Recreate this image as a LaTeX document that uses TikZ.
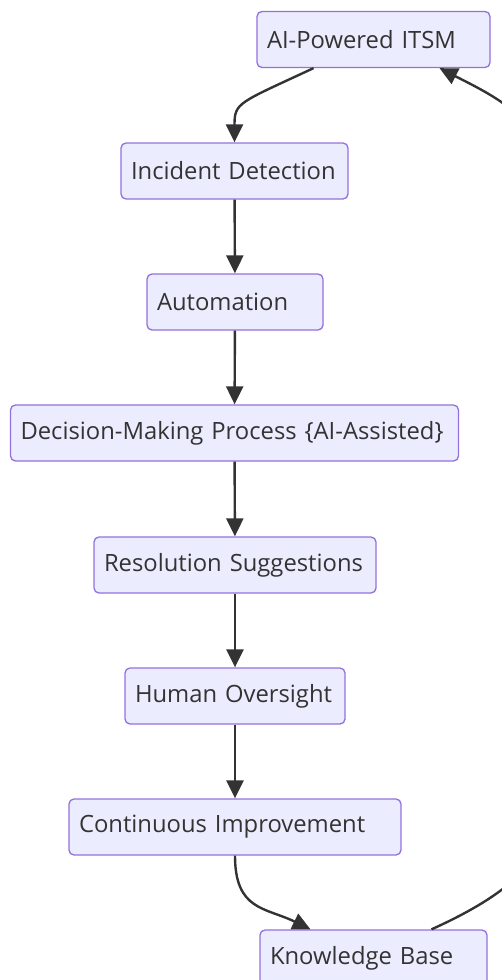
\documentclass[tikz,border=0pt]{standalone}
\usepackage{fontspec}
\setmainfont{Open Sans}
\usetikzlibrary{arrows.meta, positioning}
\definecolor{boxfill}{HTML}{ECECFF}
\definecolor{boxline}{HTML}{9370DB}
\definecolor{edgegray}{HTML}{333333}

\begin{document}
\begin{tikzpicture}[x=1pt, y=-1pt,
  stagebox/.style={draw=boxline, fill=boxfill, line width=1.3pt, rounded corners=5pt,
    minimum height=56pt, inner xsep=10pt, inner ysep=0pt, align=left,
    font=\fontsize{23.8}{28}\selectfont, text=edgegray},
  flow/.style={draw=edgegray, line width=2.4pt, -{Triangle[length=18pt, width=17pt]}}
]
  \clip (0,0) rectangle (502,980);

  % stages of the loop
  \node[stagebox, text width=213pt] (itsm) at (373.5, 39.5) {AI-Powered ITSM};
  \node[stagebox, text width=207pt] (detect) at (234.5, 171) {Incident Detection};
  \node[stagebox, text width=156pt] (auto) at (235, 302) {Automation};
  \node[stagebox, text width=428pt] (decide) at (234.5, 433) {Decision-Making Process \{AI-Assisted\}};
  \node[stagebox, text width=262pt] (resolve) at (235, 565) {Resolution Suggestions};
  \node[stagebox, text width=200pt] (human) at (235, 696) {Human Oversight};
  \node[stagebox, text width=312pt] (improve) at (235, 827) {Continuous Improvement};
  \node[stagebox, text width=207pt] (kb) at (373.5, 958) {Knowledge Base};

  % connectors
  \coordinate (itsmout) at ([xshift=-60pt]itsm.south);
  \draw[flow] (itsmout) .. controls +(-75,35) and +(0,-40) .. (detect.north);
  \draw[flow] (detect) -- (auto);
  \draw[flow] (auto) -- (decide);
  \draw[flow] (decide) -- (resolve);
  \draw[flow] (resolve) -- (human);
  \draw[flow] (human) -- (improve);
  \coordinate (kbin) at ([xshift=-63pt]kb.north);
  \draw[flow] (improve.south) .. controls +(0,55) and +(-45,-22) .. (kbin);
  \coordinate (kbout) at ([xshift=58pt]kb.north);
  \coordinate (itsmin) at ([xshift=66pt]itsm.south);
  \coordinate (farlow) at (545, 820);
  \coordinate (farhigh) at (545, 175);
  \draw[flow] (kbout) .. controls +(55,-25) and +(0,50) .. (farlow)
    -- (farhigh) .. controls +(0,-55) and +(55,28) .. (itsmin);
\end{tikzpicture}
\end{document}
